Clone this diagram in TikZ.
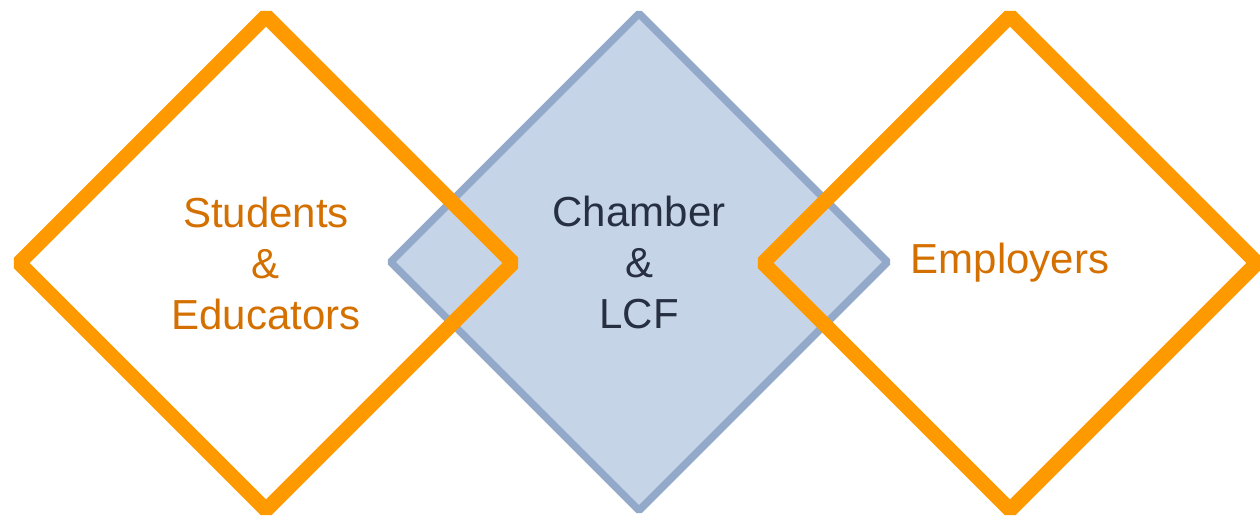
\documentclass[tikz,border=0pt]{standalone}
\usepackage{fontspec}
\setmainfont{Liberation Sans}
\usepackage{xcolor}
\usetikzlibrary{shapes.geometric}
\definecolor{ring}{HTML}{FF9900}
\definecolor{ringtext}{HTML}{D47000}
\definecolor{hubfill}{HTML}{C6D4E8}
\definecolor{hubline}{HTML}{93A9CA}
\definecolor{hubtext}{HTML}{263042}
\tikzset{
  diamondbase/.style={diamond, minimum width=500pt, minimum height=500pt,
    inner sep=0pt, align=center, line join=bevel,
    font=\fontsize{42}{51}\selectfont},
  sidediamond/.style={diamondbase, draw=ring, line width=15pt, text=ringtext},
  hubdiamond/.style={diamondbase, draw=hubline, fill=hubfill, line width=7.5pt, text=hubtext}
}
\begin{document}
\begin{tikzpicture}[x=1pt, y=1pt]
  \useasboundingbox (0,0) rectangle (1260,520);

  % centre piece first, the two side ones lie over it
  \node[hubdiamond] (hub) at (639,258) {Chamber\\\&\\LCF};

  \node[sidediamond] (students) at (266,257) {Students\\\&\\Educators};
  \node[sidediamond] (employers) at (1010,257) {Employers};
\end{tikzpicture}
\end{document}
